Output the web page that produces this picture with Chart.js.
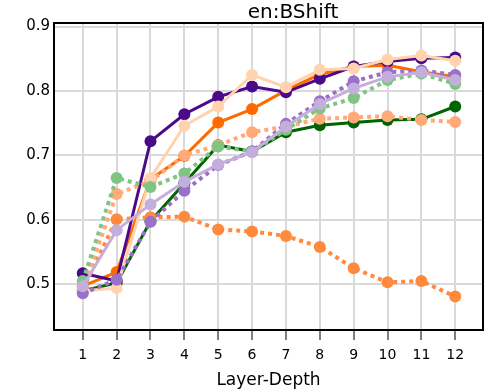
<!DOCTYPE html>
<html><head><meta charset="utf-8">
<script src="https://cdn.jsdelivr.net/npm/chart.js@4/dist/chart.umd.min.js"></script>
<style>html,body{margin:0;padding:0;background:#fff}#wrap{width:489px;height:391px}</style>
</head><body><div id="wrap"><canvas id="c" width="489" height="391"></canvas></div>
<script>
const chartTitle = 'en:BShift';
const xAxisTitle = 'Layer-Depth';
const layers = [1, 2, 3, 4, 5, 6, 7, 8, 9, 10, 11, 12];
const xTickValues = [1, 2, 3, 4, 5, 6, 7, 8, 9, 10, 11, 12];
const yTickValues = [0.5, 0.6, 0.7, 0.8, 0.9];

const darkPurple     = [0.517, 0.505, 0.722, 0.764, 0.791, 0.807, 0.798, 0.819, 0.838, 0.846, 0.851, 0.852];
const orangeSolid    = [0.497, 0.519, 0.663, 0.699, 0.751, 0.772, 0.801, 0.826, 0.838, 0.840, 0.830, 0.822];
const peachSolid     = [0.490, 0.494, 0.665, 0.746, 0.776, 0.825, 0.806, 0.833, 0.835, 0.849, 0.855, 0.847];
const darkGreen      = [0.490, 0.502, 0.598, 0.657, 0.716, 0.706, 0.736, 0.747, 0.751, 0.755, 0.756, 0.776];
const lightPurple    = [0.497, 0.584, 0.624, 0.659, 0.686, 0.705, 0.745, 0.780, 0.804, 0.822, 0.829, 0.817];
const mediumPurpleDot= [0.486, 0.507, 0.597, 0.645, 0.685, 0.706, 0.749, 0.784, 0.815, 0.829, 0.832, 0.825];
const lightGreenDot  = [0.505, 0.665, 0.651, 0.672, 0.714, 0.706, 0.740, 0.773, 0.789, 0.817, 0.827, 0.811];
const lightOrangeDot = [0.492, 0.640, 0.660, 0.700, 0.716, 0.736, 0.745, 0.757, 0.759, 0.761, 0.755, 0.752];
const orangeDot      = [0.492, 0.601, 0.604, 0.605, 0.585, 0.582, 0.575, 0.558, 0.525, 0.503, 0.505, 0.481];

function pts(vals){ return layers.map((l,i)=>({x:l, y:vals[i]})); }
function ds(label, vals, color, dotted){
  return {
    label, data: pts(vals), borderColor: color, backgroundColor: color,
    pointBackgroundColor: color, pointBorderColor: color,
    borderWidth: dotted ? 4 : 3, borderDash: dotted ? [4,4] : [],
    borderCapStyle: 'butt', pointRadius: 6, pointBorderWidth: 0,
    tension: 0, fill: false
  };
}

Chart.defaults.font.family = '"DejaVu Sans", Verdana, sans-serif';
Chart.defaults.color = '#000';

const framePlugin = {
  id: 'frame',
  afterDraw(chart){
    const {ctx, chartArea: a} = chart;
    ctx.save();
    ctx.strokeStyle = '#000';
    ctx.lineWidth = 2;
    ctx.strokeRect(a.left, a.top, a.right - a.left, a.bottom - a.top);
    ctx.font = '20px "DejaVu Sans", Verdana, sans-serif';
    ctx.fillStyle = '#000';
    ctx.textAlign = 'center';
    ctx.textBaseline = 'alphabetic';
    ctx.fillText(chartTitle, 293, 17.5);
    ctx.restore();
  }
};

new Chart(document.getElementById('c'), {
  type: 'line',
  data: {
    datasets: [
      ds('light purple', lightPurple, '#C4AEDC', false),
      ds('medium purple dotted', mediumPurpleDot, '#9A70C8', true),
      ds('light green dotted', lightGreenDot, '#7FC482', true),
      ds('peach', peachSolid, '#FFD3AE', false),
      ds('light orange dotted', lightOrangeDot, '#FFAA78', true),
      ds('orange dotted', orangeDot, '#FF8A3D', true),
      ds('dark purple', darkPurple, '#4B0A88', false),
      ds('orange', orangeSolid, '#FF6A00', false),
      ds('dark green', darkGreen, '#006400', false)
    ]
  },
  options: {
    responsive: false,
    animation: false,
    devicePixelRatio: 1,
    layout: { padding: { top: 23, left: 0, right: 2, bottom: 0 } },
    plugins: { legend: { display: false }, tooltip: { enabled: false }, title: { display: false } },
    scales: {
      x: {
        type: 'linear', min: 0.15, max: 12.82,
        afterBuildTicks: s => { s.ticks = xTickValues.map(v => ({ value: v })); },
        afterFit: s => { s.height = 61; },
        ticks: { font: { size: 14 }, padding: 7, maxRotation: 0, autoSkip: false, color: '#000',
                 callback: v => String(v) },
        grid: { color: '#d9d9d9', lineWidth: 2, drawTicks: true, tickLength: 10, tickColor: '#555', tickWidth: 1.5 },
        border: { display: false },
        title: { display: true, text: xAxisTitle, font: { size: 17 }, color: '#000', padding: { top: 0, bottom: 0 } }
      },
      y: {
        min: 0.429, max: 0.9056,
        afterBuildTicks: s => { s.ticks = yTickValues.map(v => ({ value: v })); },
        afterFit: s => { s.width = 54; },
        ticks: { font: { size: 15 }, padding: 4, color: '#000', callback: v => v.toFixed(1) },
        grid: { color: '#d9d9d9', lineWidth: 2, drawTicks: false },
        border: { display: false }
      }
    }
  },
  plugins: [framePlugin]
});
</script>
</body></html>
